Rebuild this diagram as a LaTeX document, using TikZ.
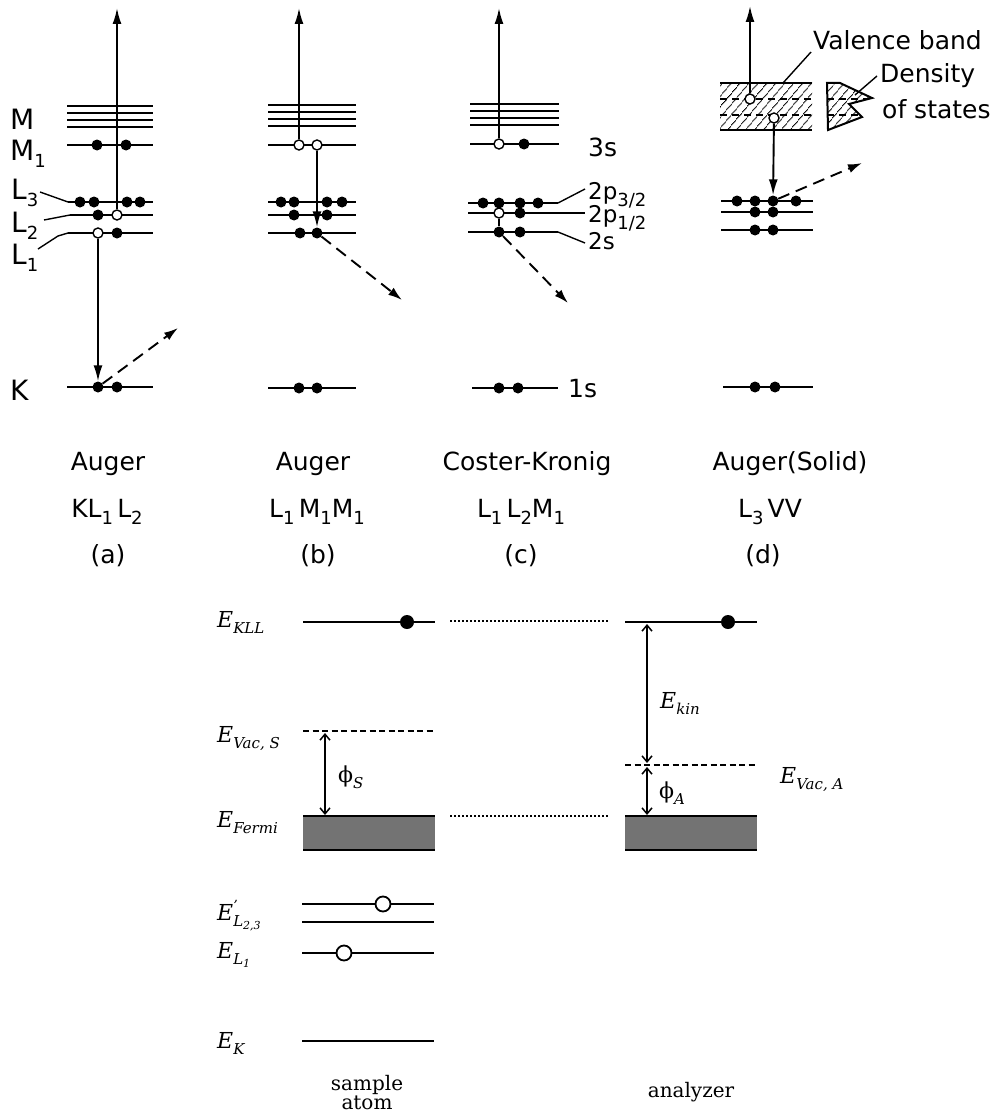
\documentclass[tikz,border=0pt]{standalone}
\usepackage{fontspec}
\setmainfont{DejaVu Sans}
\newfontfamily\serifb{DejaVu Serif}
\usetikzlibrary{arrows.meta,patterns.meta}
\newcommand{\dinsub}[1]{\raisebox{-7pt}{\fontsize{18}{18}\selectfont #1}}
\newcommand{\esub}[1]{\raisebox{-6pt}{\fontsize{15}{15}\selectfont #1}}
\newcommand{\eesub}[1]{\raisebox{-3.5pt}{\fontsize{11}{11}\selectfont #1}}
\tikzset{
  lvl/.style={line width=2.4pt},
  mlvl/.style={line width=1.8pt},
  leader/.style={line width=1.4pt},
  fdot/.style={circle,fill=black,inner sep=0pt,minimum size=11pt},
  odot/.style={circle,draw=black,fill=white,line width=1.4pt,inner sep=0pt,minimum size=10pt},
  uparr/.style={line width=1.9pt,-{Latex[length=16pt,width=9pt]}},
  fall/.style={line width=1.8pt},
  dasharr/.style={line width=1.9pt,dash pattern=on 12pt off 7pt,-{Latex[length=14pt,width=9pt]}},
  din/.style={font=\fontsize{25}{30}\selectfont,inner sep=0pt},
  dinL/.style={font=\fontsize{28}{32}\selectfont,inner sep=0pt},
  dinS/.style={font=\fontsize{23}{28}\selectfont,inner sep=0pt},
  ser/.style={font=\serifb\itshape\fontsize{22}{26}\selectfont,inner sep=0pt},
  serup/.style={font=\serifb\fontsize{20}{16}\selectfont,inner sep=0pt},
  bdot/.style={circle,fill=black,inner sep=0pt,minimum size=14pt},
  bodot/.style={circle,draw=black,fill=white,line width=1.8pt,inner sep=0pt,minimum size=15pt},
  blvl/.style={line width=2.3pt},
  bdash/.style={line width=2pt,dash pattern=on 6pt off 3.5pt},
  bdot line/.style={line width=1.2pt,dash pattern=on 1.5pt off 2.5pt},
  darr/.style={line width=1.5pt,{Straight Barb[length=6pt,width=10pt,line width=1.5pt]}-{Straight Barb[length=6pt,width=10pt,line width=1.5pt]}},
  hatch/.style={pattern={Lines[angle=50,distance=6.5pt,line width=1pt]}},
}
\begin{document}
\begin{tikzpicture}[x=1pt,y=-1pt]
\useasboundingbox (0,0) rectangle (994,1113);

% ================= panel (a)
\foreach \y in {106,113,120,127} \draw[mlvl] (67,\y) -- (153,\y);
\draw[lvl] (67,145) -- (153,145);
\draw[lvl] (68,202) -- (153,202);
\draw[lvl] (70,215) -- (153,215);
\draw[lvl] (68,233) -- (153,233);
\draw[lvl] (67,387) -- (153,387);
\draw[leader] (40,192) -- (68,202);
\draw[leader] (44,220) -- (70,215);
\draw[leader] (38,249) -- (58,236) -- (68,233);
\node[dinL,anchor=base west] (lM) at (10,130) {M};
\node[dinL,anchor=base west] (lM1) at (10,160) {M\dinsub{1}};
\node[dinL,anchor=base west] (lL3) at (11,199) {L\dinsub{3}};
\node[dinL,anchor=base west] (lL2) at (11,232) {L\dinsub{2}};
\node[dinL,anchor=base west] (lL1) at (11,264) {L\dinsub{1}};
\node[dinL,anchor=base west] (lK) at (10,400) {K};
\node[fdot] (aM1a) at (97,145) {};
\node[fdot] (aM1b) at (126,145) {};
\node[fdot] (aL3a) at (80,202) {};
\node[fdot] (aL3b) at (94,202) {};
\node[fdot] (aL3c) at (127,202) {};
\node[fdot] (aL3d) at (140,202) {};
\node[fdot] (aL2a) at (98,215) {};
\node[odot] (aL2h) at (117,215) {};
\node[odot] (aL1h) at (98,233) {};
\node[fdot] (aL1b) at (117,233) {};
\node[fdot] (aKa) at (98,387) {};
\node[fdot] (aKb) at (117,387) {};
\coordinate (aTop) at (117,8);
\coordinate (aEsc) at (178,328);
\draw[uparr] (aL2h) -- (aTop);
\draw[uparr] (aL1h) -- (aKa);
\draw[dasharr] (aKa) -- (aEsc);

% ================= panel (b)
\foreach \y in {105,112,119,126} \draw[mlvl] (268,\y) -- (356,\y);
\foreach \y in {145,202,215,233,388} \draw[lvl] (268,\y) -- (356,\y);
\node[odot] (bM1a) at (299,145) {};
\node[odot] (bM1b) at (317,145) {};
\node[fdot] (bL3a) at (281,202) {};
\node[fdot] (bL3b) at (294,202) {};
\node[fdot] (bL3c) at (327,202) {};
\node[fdot] (bL3d) at (342,202) {};
\node[fdot] (bL2a) at (294,215) {};
\node[fdot] (bL2b) at (327,215) {};
\node[fdot] (bL1a) at (300,233) {};
\node[fdot] (bL1b) at (317,233) {};
\node[fdot] (bKa) at (299,388) {};
\node[fdot] (bKb) at (317,388) {};
\coordinate (bTop) at (299,8);
\coordinate (bEsc) at (402,300);
\draw[uparr] (bM1a) -- (bTop);
\draw[uparr] (bM1b) -- (bL1b);
\draw[dasharr] (bL1b) -- (bEsc);

% ================= panel (c)
\foreach \y in {104,111,118,125} \draw[mlvl] (470,\y) -- (559,\y);
\draw[lvl] (470,144) -- (559,144);
\foreach \y in {203,213,232} \draw[lvl] (468,\y) -- (558,\y);
\draw[lvl] (472,388) -- (558,388);
\draw[leader] (558,203) -- (585,189);
\draw[leader] (558,213) -- (585,213);
\draw[leader] (558,232) -- (585,243);
\node[din,anchor=base west] (l3s) at (588,157) {3s};
\node[dinS,anchor=base west] (l2p3) at (588,199) {2p\dinsub{3/2}};
\node[dinS,anchor=base west] (l2p1) at (588,222) {2p\dinsub{1/2}};
\node[dinS,anchor=base west] (l2s) at (588,249) {2s};
\node[din,anchor=base west] (l1s) at (568,397) {1s};
\node[odot] (c3sh) at (499,144) {};
\node[fdot] (c3sb) at (524,144) {};
\node[fdot] (cL3a) at (483,203) {};
\node[fdot] (cL3b) at (499,203) {};
\node[fdot] (cL3c) at (520,203) {};
\node[fdot] (cL3d) at (538,203) {};
\node[odot] (cL2h) at (499,213) {};
\node[fdot] (cL2b) at (520,213) {};
\node[fdot] (cL1a) at (499,232) {};
\node[fdot] (cL1b) at (520,232) {};
\node[fdot] (cKa) at (499,388) {};
\node[fdot] (cKb) at (518,388) {};
\coordinate (cTop) at (499,8);
\coordinate (cEsc) at (568,303);
\draw[uparr] (c3sh) -- (cTop);
\draw[fall] (cL2h) -- (cL1a);
\draw[dasharr] (cL1a) -- (cEsc);

% ================= panel (d)
\fill[hatch] (720,83) rectangle (812,130);
\draw[line width=1.1pt,dash pattern=on 7pt off 5pt] (720,99) -- (812,99);
\draw[line width=1.1pt,dash pattern=on 7pt off 5pt] (720,115) -- (812,115);
\draw[lvl] (720,83) -- (812,83);
\draw[lvl] (720,130) -- (812,130);
\draw[leader] (783,83) -- (811,52);
\node[din,anchor=base west] (lVB) at (813,50) {Valence band};
\begin{scope}
  \clip (827,83) -- (840,83) -- (872,98) -- (849,104) -- (862,117) -- (828,130) -- cycle;
  \fill[hatch] (820,80) rectangle (880,135);
  \draw[line width=1.1pt,dash pattern=on 7pt off 5pt] (827,99) -- (880,99);
  \draw[line width=1.1pt,dash pattern=on 7pt off 5pt] (827,115) -- (880,115);
\end{scope}
\draw[line width=2pt,line join=miter] (827,83) -- (840,83) -- (872,98) -- (849,104) -- (862,117) -- (828,130) -- cycle;
\draw[leader] (855,95) -- (877,76);
\node[din,anchor=base west] (lDen) at (880,83) {Density};
\node[din,anchor=base west] (lSta) at (882,118) {of states};
\foreach \y in {201,212,230} \draw[lvl] (721,\y) -- (813,\y);
\draw[lvl] (723,387) -- (813,387);
\node[odot] (dVh1) at (750,99) {};
\node[odot] (dVh2) at (774,118) {};
\node[fdot] (dL3a) at (737,201) {};
\node[fdot] (dL3b) at (755,201) {};
\node[fdot] (dL3c) at (773,201) {};
\node[fdot] (dL3d) at (796,201) {};
\node[fdot] (dL2a) at (755,212) {};
\node[fdot] (dL2b) at (773,212) {};
\node[fdot] (dL1a) at (755,230) {};
\node[fdot] (dL1b) at (773,230) {};
\node[fdot] (dKa) at (755,387) {};
\node[fdot] (dKb) at (775,387) {};
\coordinate (dTop) at (750,6);
\coordinate (dEsc) at (862,163);
\draw[uparr] (dVh1) -- (dTop);
\draw[uparr] (dVh2) -- (dL3c);
\draw[dasharr] (dL3c) -- (dEsc);

% ================= captions
\node[din,anchor=base] (ta1) at (108,470) {Auger};
\node[din,anchor=base] (ta2) at (107,517) {KL\dinsub{1}\,L\dinsub{2}};
\node[din,anchor=base] (ta3) at (108,563) {(a)};
\node[din,anchor=base] (tb1) at (313,470) {Auger};
\node[din,anchor=base] (tb2) at (317,517) {L\dinsub{1}\,M\dinsub{1}M\dinsub{1}};
\node[din,anchor=base] (tb3) at (318,563) {(b)};
\node[din,anchor=base] (tc1) at (527,470) {Coster-Kronig};
\node[din,anchor=base] (tc2) at (521,517) {L\dinsub{1}\,L\dinsub{2}M\dinsub{1}};
\node[din,anchor=base] (tc3) at (521,563) {(c)};
\node[din,anchor=base] (td1) at (790,470) {Auger(Solid)};
\node[din,anchor=base] (td2) at (770,517) {L\dinsub{3}\,VV};
\node[din,anchor=base] (td3) at (763,563) {(d)};

% ================= bottom energy diagram
\node[ser,anchor=base west] (eKLL) at (217,627) {E\esub{KLL}};
\node[ser,anchor=base west] (eVS) at (217,742) {E\esub{Vac, S}};
\node[ser,anchor=base west] (eF) at (217,827) {E\esub{Fermi}};
\node[ser,anchor=base west] (eL23) at (217,920) {E\rlap{\raisebox{10pt}{\fontsize{14}{14}\selectfont ’}}\esub{L\eesub{2,3}}};
\node[ser,anchor=base west] (eL1) at (217,958) {E\esub{L\eesub{1}}};
\node[ser,anchor=base west] (eK) at (217,1048) {E\esub{K}};
\node[ser,anchor=base west] (eVA) at (780,783) {E\esub{Vac, A}};
\node[ser,anchor=base west] (eKin) at (660,708) {E\esub{kin}};
\node[ser,anchor=west] (phS) at (338,777) {{\upshape ϕ}\esub{S}};
\node[ser,anchor=west] (phA) at (659,793) {{\upshape ϕ}\esub{A}};

% sample side
\draw[blvl] (303,622) -- (435,622);
\node[bdot] (kllS) at (407,622) {};
\draw[bdash] (303,731) -- (435,731);
\fill[black!55] (303,816) rectangle (435,850);
\draw[line width=2.8pt] (303,816) -- (435,816);
\draw[line width=2.8pt] (303,850) -- (435,850);
\coordinate (vacS) at (325,733);
\coordinate (fermS) at (325,815);
\draw[darr] (vacS) -- (fermS);
\draw[blvl] (302,904) -- (434,904);
\node[bodot] (h23) at (383,904) {};
\draw[blvl] (302,922) -- (434,922);
\draw[blvl] (302,953) -- (434,953);
\node[bodot] (h1) at (344,953) {};
\draw[blvl] (302,1041) -- (434,1041);
\node[serup,anchor=north,align=center] (tsam) at (367,1075) {sample\\atom};

% analyzer side
\draw[blvl] (625,622) -- (757,622);
\node[bdot] (kllA) at (728,622) {};
\draw[bdash] (625,765) -- (757,765);
\fill[black!55] (625,816) rectangle (757,850);
\draw[line width=2.8pt] (625,816) -- (757,816);
\draw[line width=2.8pt] (625,850) -- (757,850);
\coordinate (kinT) at (647,624);
\coordinate (kinB) at (647,763);
\coordinate (phT) at (647,767);
\coordinate (phB) at (647,815);
\draw[darr] (kinT) -- (kinB);
\draw[darr] (phT) -- (phB);
\node[serup,anchor=base] (tana) at (691,1097) {analyzer};

% dotted connections
\coordinate (dl1) at (450,621);
\coordinate (dr1) at (608,621);
\coordinate (dl2) at (450,816);
\coordinate (dr2) at (608,816);
\draw[bdot line] (dl1) -- (dr1);
\draw[bdot line] (dl2) -- (dr2);
\end{tikzpicture}
\end{document}
